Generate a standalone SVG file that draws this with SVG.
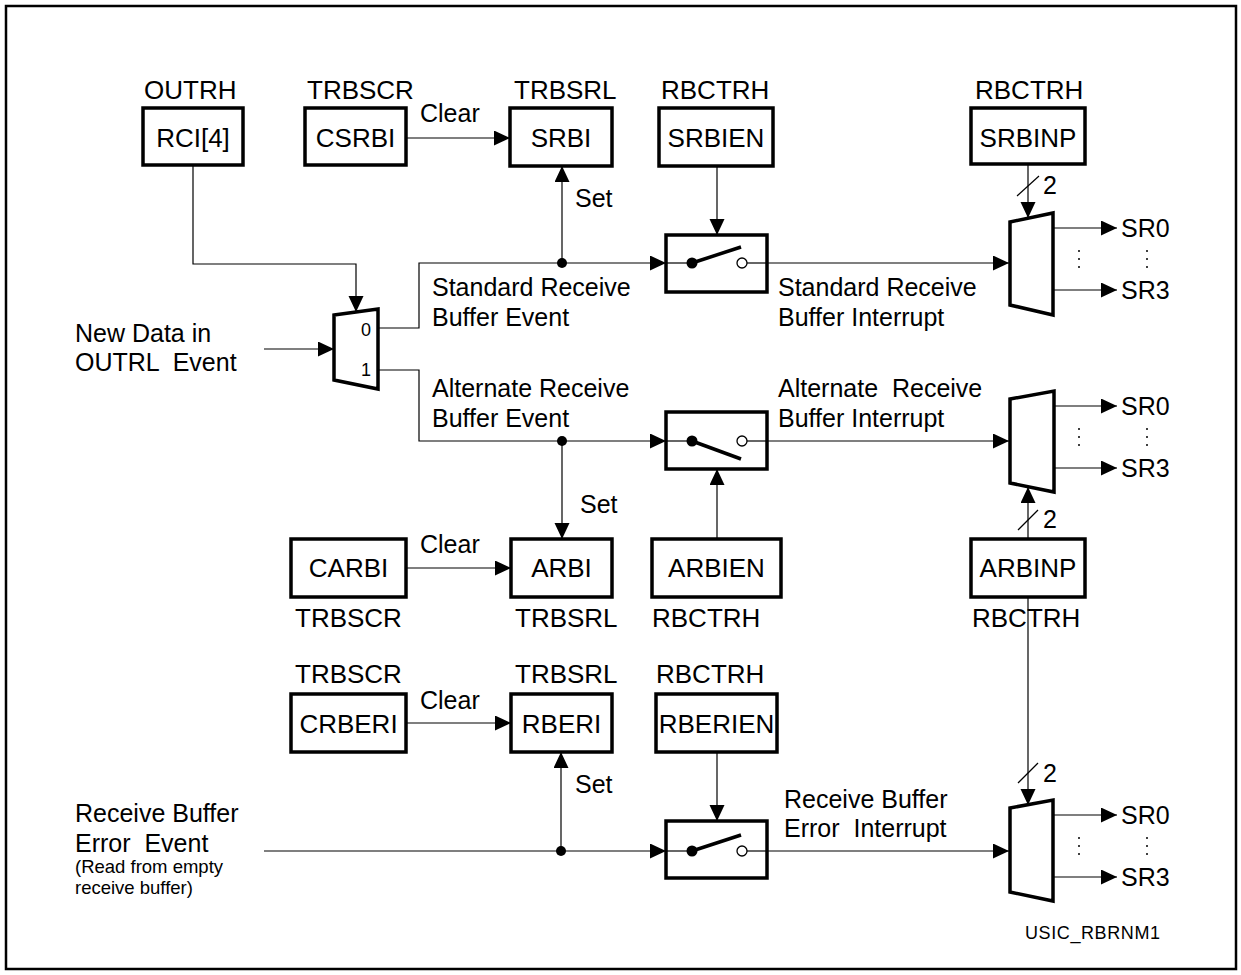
<svg xmlns="http://www.w3.org/2000/svg" width="1241" height="975" viewBox="0 0 1241 975">
<style>
text{font-family:"Liberation Sans",Arial,sans-serif;fill:#000;white-space:pre}
.t{font-size:25px}
.b{font-size:26px}
.s{font-size:18.5px}
.m{font-size:18px}
.box{fill:#fff;stroke:#000;stroke-width:3.5}
.mux{fill:#fff;stroke:#000;stroke-width:3.5}
.w{fill:none;stroke:#000;stroke-width:1.2}
.a{marker-end:url(#ar)}
.lever{stroke:#000;stroke-width:3.5;fill:none}
</style>
<defs>
<marker id="ar" markerUnits="userSpaceOnUse" markerWidth="16" markerHeight="16" refX="16" refY="7.5" orient="auto">
<path d="M0,0 L16,7.5 L0,15 z" fill="#000"/>
</marker>
</defs>
<rect x="6" y="6" width="1230" height="963" fill="#fff" stroke="#000" stroke-width="2.5"/>

<g id="connectors">
<path class="w a" d="M193,165 V264 H356 V312"/>
<path class="w a" d="M264,349 H334"/>
<path class="w a" d="M378,328 H419 V263 H666"/>
<path class="w a" d="M378,370 H419 V441 H666"/>
<path class="w a" d="M264,851 H666"/>
<path class="w a" d="M562,263 V166"/>
<path class="w a" d="M562,441 V539"/>
<path class="w a" d="M561,851 V752"/>
<path class="w a" d="M406,138 H510"/>
<path class="w a" d="M406,568 H511"/>
<path class="w a" d="M406,723 H511"/>
<path class="w a" d="M717,166 V235"/>
<path class="w" d="M717,235 V255"/>
<path class="w a" d="M717,539 V469"/>
<path class="w a" d="M717,752 V821"/>
<path class="w" d="M717,821 V843"/>
<path class="w a" d="M747,263 H1009"/>
<path class="w a" d="M747,441 H1009"/>
<path class="w a" d="M747,851 H1009"/>
<path class="w a" d="M1028,164 V218"/>
<path class="w" d="M1017,196 L1039,176"/>
<path class="w a" d="M1028,539 V487"/>
<path class="w" d="M1018,530 L1038,510"/>
<path class="w a" d="M1028,597 V805"/>
<path class="w" d="M1018,783 L1038,763"/>
<path class="w a" d="M1053,228 H1117"/>
<path class="w a" d="M1053,290 H1117"/>
<path class="w a" d="M1054,406 H1117"/>
<path class="w a" d="M1054,468 H1117"/>
<path class="w a" d="M1053,815 H1117"/>
<path class="w a" d="M1053,877 H1117"/>
<circle cx="562" cy="263" r="5"/>
<circle cx="562" cy="441" r="5"/>
<circle cx="561" cy="851" r="5"/>
<g fill="#000">
<circle cx="1079" cy="251" r="1"/><circle cx="1079" cy="259" r="1"/><circle cx="1079" cy="267" r="1"/>
<circle cx="1147" cy="251" r="1"/><circle cx="1147" cy="259" r="1"/><circle cx="1147" cy="267" r="1"/>
<circle cx="1079" cy="429" r="1"/><circle cx="1079" cy="437" r="1"/><circle cx="1079" cy="445" r="1"/>
<circle cx="1147" cy="429" r="1"/><circle cx="1147" cy="437" r="1"/><circle cx="1147" cy="445" r="1"/>
<circle cx="1079" cy="838" r="1"/><circle cx="1079" cy="846" r="1"/><circle cx="1079" cy="854" r="1"/>
<circle cx="1147" cy="838" r="1"/><circle cx="1147" cy="846" r="1"/><circle cx="1147" cy="854" r="1"/>
</g>
<text class="t" x="420" y="122">Clear</text>
<text class="t" x="420" y="553">Clear</text>
<text class="t" x="420" y="709">Clear</text>
<text class="t" x="575" y="207">Set</text>
<text class="t" x="580" y="513">Set</text>
<text class="t" x="575" y="793">Set</text>
<text class="t" x="1043" y="194">2</text>
<text class="t" x="1043" y="528">2</text>
<text class="t" x="1043" y="782">2</text>
<text class="t" x="432" y="296">Standard Receive</text>
<text class="t" x="432" y="326">Buffer Event</text>
<text class="t" x="432" y="397">Alternate Receive</text>
<text class="t" x="432" y="427">Buffer Event</text>
<text class="t" x="778" y="296">Standard Receive</text>
<text class="t" x="778" y="326">Buffer Interrupt</text>
<text class="t" x="778" y="397">Alternate  Receive</text>
<text class="t" x="778" y="427">Buffer Interrupt</text>
<text class="t" x="784" y="808">Receive Buffer</text>
<text class="t" x="784" y="837">Error  Interrupt</text>
</g>

<g id="in-newdata">
<text class="t" x="75" y="342">New Data in</text>
<text class="t" x="75" y="371">OUTRL  Event</text>
</g>
<g id="in-error">
<text class="t" x="75" y="822">Receive Buffer</text>
<text class="t" x="75" y="852">Error  Event</text>
<text class="s" x="75" y="873">(Read from empty</text>
<text class="s" x="75" y="894">receive buffer)</text>
</g>

<g id="rci4">
<text class="b" x="144" y="99">OUTRH</text>
<rect class="box" x="143" y="108" width="100" height="57"/>
<text class="b" x="193" y="147" text-anchor="middle">RCI[4]</text>
</g>
<g id="csrbi">
<text class="b" x="307" y="99">TRBSCR</text>
<rect class="box" x="305" y="108" width="101" height="57"/>
<text class="b" x="355.5" y="147" text-anchor="middle">CSRBI</text>
</g>
<g id="srbi">
<text class="b" x="514" y="99">TRBSRL</text>
<rect class="box" x="510" y="108" width="102" height="58"/>
<text class="b" x="561" y="147" text-anchor="middle">SRBI</text>
</g>
<g id="srbien">
<text class="b" x="661" y="99">RBCTRH</text>
<rect class="box" x="659" y="108" width="114" height="58"/>
<text class="b" x="716" y="147" text-anchor="middle">SRBIEN</text>
</g>
<g id="srbinp">
<text class="b" x="975" y="99">RBCTRH</text>
<rect class="box" x="971" y="108" width="114" height="56"/>
<text class="b" x="1028" y="147" text-anchor="middle">SRBINP</text>
</g>

<g id="mux-rx">
<polygon class="mux" points="334,315 378,309 378,389 334,380"/>
<text class="m" x="361" y="336">0</text>
<text class="m" x="361" y="376">1</text>
</g>

<g id="switch-std">
<rect class="box" x="666" y="235" width="101" height="57"/>
<path class="w" d="M666,263 H692"/>
<circle cx="692" cy="263" r="5.5"/>
<path class="lever" d="M692,263 L741,247"/>
<circle cx="742" cy="263" r="5" fill="#fff" stroke="#000" stroke-width="1.3"/>
<path class="w" d="M747,263 H767"/>
</g>
<g id="switch-alt">
<rect class="box" x="666" y="412" width="101" height="57"/>
<path class="w" d="M666,441 H692"/>
<circle cx="692" cy="441" r="5.5"/>
<path class="lever" d="M692,441 L741,459"/>
<circle cx="742" cy="441" r="5" fill="#fff" stroke="#000" stroke-width="1.3"/>
<path class="w" d="M747,441 H767"/>
</g>
<g id="switch-err">
<rect class="box" x="666" y="821" width="101" height="57"/>
<path class="w" d="M666,851 H692"/>
<circle cx="692" cy="851" r="5.5"/>
<path class="lever" d="M692,851 L741,835"/>
<circle cx="742" cy="851" r="5" fill="#fff" stroke="#000" stroke-width="1.3"/>
<path class="w" d="M747,851 H767"/>
</g>

<g id="mux-std">
<polygon class="mux" points="1010,222 1053,213 1053,315 1010,305"/>
<text class="t" x="1121" y="237">SR0</text>
<text class="t" x="1121" y="299">SR3</text>
</g>
<g id="mux-alt">
<polygon class="mux" points="1010,399 1054,391 1054,492 1010,483"/>
<text class="t" x="1121" y="415">SR0</text>
<text class="t" x="1121" y="477">SR3</text>
</g>
<g id="mux-err">
<polygon class="mux" points="1010,808 1053,800 1053,901 1010,892"/>
<text class="t" x="1121" y="824">SR0</text>
<text class="t" x="1121" y="886">SR3</text>
</g>

<g id="carbi">
<rect class="box" x="291" y="539" width="115" height="58"/>
<text class="b" x="348.5" y="577" text-anchor="middle">CARBI</text>
<text class="b" x="295" y="627">TRBSCR</text>
</g>
<g id="arbi">
<rect class="box" x="511" y="539" width="101" height="58"/>
<text class="b" x="561.5" y="577" text-anchor="middle">ARBI</text>
<text class="b" x="515" y="627">TRBSRL</text>
</g>
<g id="arbien">
<rect class="box" x="652" y="539" width="129" height="58"/>
<text class="b" x="716.5" y="577" text-anchor="middle">ARBIEN</text>
<text class="b" x="652" y="627">RBCTRH</text>
</g>
<g id="arbinp">
<rect class="box" x="971" y="539" width="114" height="58"/>
<text class="b" x="1028" y="577" text-anchor="middle">ARBINP</text>
<text class="b" x="972" y="627">RBCTRH</text>
</g>

<g id="crberi">
<text class="b" x="295" y="683">TRBSCR</text>
<rect class="box" x="291" y="694" width="115" height="58"/>
<text class="b" x="348.5" y="733" text-anchor="middle">CRBERI</text>
</g>
<g id="rberi">
<text class="b" x="515" y="683">TRBSRL</text>
<rect class="box" x="511" y="694" width="101" height="58"/>
<text class="b" x="561.5" y="733" text-anchor="middle">RBERI</text>
</g>
<g id="rberien">
<text class="b" x="656" y="683">RBCTRH</text>
<rect class="box" x="656" y="694" width="121" height="58"/>
<text class="b" x="716.5" y="733" text-anchor="middle">RBERIEN</text>
</g>

<text x="1025" y="939" font-size="18" textLength="135">USIC_RBRNM1</text>
</svg>
